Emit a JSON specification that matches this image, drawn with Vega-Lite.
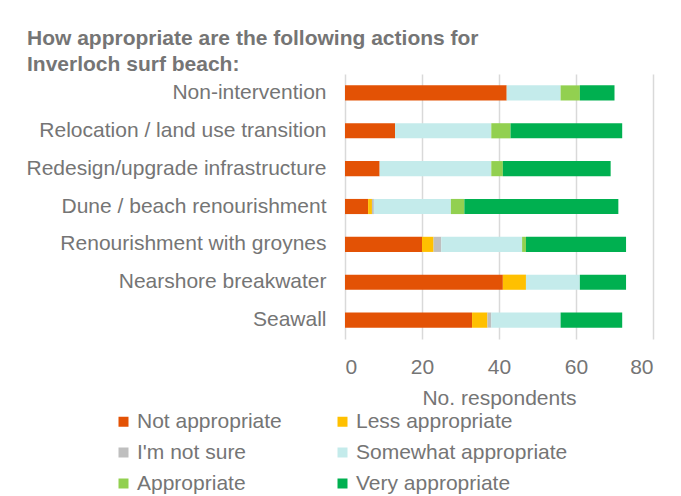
{
  "$schema": "https://vega.github.io/schema/vega-lite/v6.json",
  "autosize": {"type": "none"},
  "padding": {"left": 345, "top": 74, "right": 28, "bottom": 157},
  "width": 308,
  "height": 265,
  "background": "white",
  "title": {
    "text": ["How appropriate are the following actions for", "Inverloch surf beach:"],
    "anchor": "start",
    "frame": "group",
    "dx": -318,
    "offset": -1,
    "font": "Liberation Sans",
    "fontSize": 21,
    "fontWeight": "bold",
    "color": "#757575",
    "lineHeight": 26
  },
  "data": {
    "values": [
      {"action": "Non-intervention", "rating": "Not appropriate", "level": 1, "n": 42},
      {"action": "Non-intervention", "rating": "Somewhat appropriate", "level": 4, "n": 14},
      {"action": "Non-intervention", "rating": "Appropriate", "level": 5, "n": 5},
      {"action": "Non-intervention", "rating": "Very appropriate", "level": 6, "n": 9},
      {"action": "Relocation / land use transition", "rating": "Not appropriate", "level": 1, "n": 13},
      {"action": "Relocation / land use transition", "rating": "Somewhat appropriate", "level": 4, "n": 25},
      {"action": "Relocation / land use transition", "rating": "Appropriate", "level": 5, "n": 5},
      {"action": "Relocation / land use transition", "rating": "Very appropriate", "level": 6, "n": 29},
      {"action": "Redesign/upgrade infrastructure", "rating": "Not appropriate", "level": 1, "n": 9},
      {"action": "Redesign/upgrade infrastructure", "rating": "Somewhat appropriate", "level": 4, "n": 29},
      {"action": "Redesign/upgrade infrastructure", "rating": "Appropriate", "level": 5, "n": 3},
      {"action": "Redesign/upgrade infrastructure", "rating": "Very appropriate", "level": 6, "n": 28},
      {"action": "Dune / beach renourishment", "rating": "Not appropriate", "level": 1, "n": 6},
      {"action": "Dune / beach renourishment", "rating": "Less appropriate", "level": 2, "n": 1},
      {"action": "Dune / beach renourishment", "rating": "I'm not sure", "level": 3, "n": 0.5},
      {"action": "Dune / beach renourishment", "rating": "Somewhat appropriate", "level": 4, "n": 20},
      {"action": "Dune / beach renourishment", "rating": "Appropriate", "level": 5, "n": 3.5},
      {"action": "Dune / beach renourishment", "rating": "Very appropriate", "level": 6, "n": 40},
      {"action": "Renourishment with groynes", "rating": "Not appropriate", "level": 1, "n": 20},
      {"action": "Renourishment with groynes", "rating": "Less appropriate", "level": 2, "n": 3},
      {"action": "Renourishment with groynes", "rating": "I'm not sure", "level": 3, "n": 2},
      {"action": "Renourishment with groynes", "rating": "Somewhat appropriate", "level": 4, "n": 21},
      {"action": "Renourishment with groynes", "rating": "Appropriate", "level": 5, "n": 1},
      {"action": "Renourishment with groynes", "rating": "Very appropriate", "level": 6, "n": 26},
      {"action": "Nearshore breakwater", "rating": "Not appropriate", "level": 1, "n": 41},
      {"action": "Nearshore breakwater", "rating": "Less appropriate", "level": 2, "n": 6},
      {"action": "Nearshore breakwater", "rating": "Somewhat appropriate", "level": 4, "n": 14},
      {"action": "Nearshore breakwater", "rating": "Very appropriate", "level": 6, "n": 12},
      {"action": "Seawall", "rating": "Not appropriate", "level": 1, "n": 33},
      {"action": "Seawall", "rating": "Less appropriate", "level": 2, "n": 4},
      {"action": "Seawall", "rating": "I'm not sure", "level": 3, "n": 1},
      {"action": "Seawall", "rating": "Somewhat appropriate", "level": 4, "n": 18},
      {"action": "Seawall", "rating": "Very appropriate", "level": 6, "n": 16}
    ]
  },
  "mark": {"type": "bar"},
  "encoding": {
    "y": {
      "field": "action",
      "type": "nominal",
      "sort": ["Non-intervention", "Relocation / land use transition", "Redesign/upgrade infrastructure", "Dune / beach renourishment", "Renourishment with groynes", "Nearshore breakwater", "Seawall"],
      "scale": {"paddingInner": 0.6, "paddingOuter": 0.3},
      "axis": {
        "title": null,
        "domain": false,
        "ticks": false,
        "labelPadding": 19,
        "labelFont": "Liberation Sans",
        "labelFontSize": 21,
        "labelColor": "#757575",
        "labelLimit": 400
      }
    },
    "x": {
      "field": "n",
      "type": "quantitative",
      "stack": "zero",
      "scale": {"domain": [0, 80], "nice": false},
      "axis": {
        "values": [0, 20, 40, 60, 80],
        "title": "No. respondents",
        "domain": false,
        "ticks": false,
        "grid": true,
        "gridColor": "#d9d9d9",
        "gridWidth": 1.5,
        "labelPadding": 17,
        "labelFont": "Liberation Sans",
        "labelFontSize": 21,
        "labelColor": "#757575",
        "titleFont": "Liberation Sans",
        "titleFontSize": 21,
        "titleFontWeight": "normal",
        "titleColor": "#757575",
        "titlePadding": 10
      }
    },
    "order": {"field": "level", "type": "quantitative", "sort": "ascending"},
    "color": {
      "field": "rating",
      "type": "nominal",
      "scale": {
        "domain": ["Not appropriate", "Less appropriate", "I'm not sure", "Somewhat appropriate", "Appropriate", "Very appropriate"],
        "range": ["#E35205", "#FFC000", "#BFBFBF", "#C4EBEB", "#92D050", "#00B050"]
      },
      "legend": {
        "title": null,
        "orient": "none",
        "direction": "horizontal",
        "legendX": -232,
        "legendY": 337,
        "columns": 2,
        "symbolType": "square",
        "symbolSize": 100,
        "symbolStrokeWidth": 0,
        "symbolOpacity": 1,
        "labelFont": "Liberation Sans",
        "labelFontSize": 21,
        "labelColor": "#757575",
        "labelOffset": 3,
        "columnPadding": 50,
        "rowPadding": 9,
        "labelLimit": 300
      }
    }
  },
  "config": {
    "view": {"stroke": null}
  }
}
